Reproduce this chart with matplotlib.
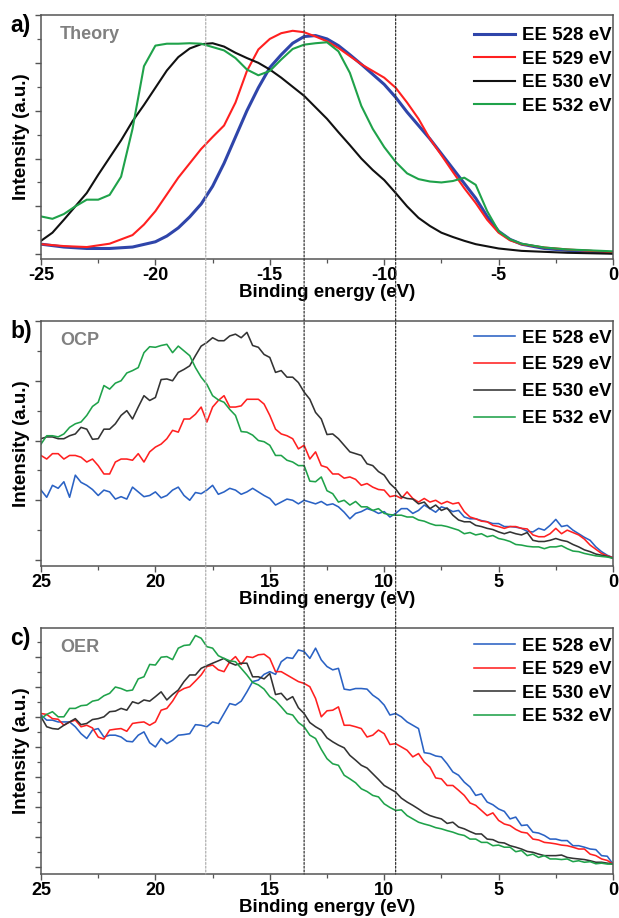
import numpy as np
import matplotlib
matplotlib.use("Agg")
import matplotlib.pyplot as plt
from matplotlib.patches import ConnectionPatch
from matplotlib.ticker import MultipleLocator, FuncFormatter

plt.rcParams['font.family'] = ['Liberation Sans', 'DejaVu Sans']
plt.rcParams['font.weight'] = 'bold'

labels = ["EE 528 eV", "EE 529 eV", "EE 530 eV", "EE 532 eV"]

# ---------------- Panel a: theory ----------------
xa_blue = [-25, -24, -23, -22, -21, -20, -19.5, -19, -18.5, -18, -17.5, -17, -16.5, -16, -15.5, -15,
           -14.5, -14, -13.5, -13, -12.5, -12, -11.5, -11, -10.5, -10, -9.5, -9, -8.5, -8, -7.5, -7,
           -6.5, -6, -5.5, -5, -4.5, -4, -3, -2, -1, 0]
ya_blue = [0.21, 0.15, 0.12, 0.12, 0.15, 0.26, 0.38, 0.55, 0.78, 1.05, 1.42, 1.90, 2.45, 3.00, 3.48, 3.90,
           4.17, 4.41, 4.55, 4.57, 4.50, 4.36, 4.17, 3.97, 3.76, 3.55, 3.28, 2.97, 2.69, 2.41, 2.10, 1.79,
           1.48, 1.17, 0.79, 0.48, 0.31, 0.21, 0.12, 0.08, 0.06, 0.03]

xa_red = [-25, -24, -23, -22, -21, -20.5, -20, -19.5, -19, -18.5, -18, -17.5, -17, -16.5, -16, -15.5,
          -15, -14.5, -14, -13.5, -13, -12.5, -12, -11.5, -11, -10.5, -10, -9.5, -9, -8.5, -8, -7.5,
          -7, -6.5, -6, -5.5, -5, -4.5, -4, -3, -2, -1, 0]
ya_red = [0.21, 0.17, 0.15, 0.22, 0.40, 0.62, 0.90, 1.25, 1.60, 1.90, 2.20, 2.45, 2.69, 3.17, 3.83, 4.28,
          4.50, 4.62, 4.67, 4.64, 4.55, 4.45, 4.31, 4.14, 3.97, 3.83, 3.69, 3.48, 3.17, 2.83, 2.41, 2.07,
          1.72, 1.38, 1.07, 0.72, 0.45, 0.29, 0.21, 0.14, 0.10, 0.07, 0.04]

xa_black = [-25, -24.5, -24, -23.5, -23, -22.5, -22, -21.5, -21, -20.5, -20, -19.5, -19, -18.5, -18,
            -17.5, -17, -16.5, -16, -15.5, -15, -14.5, -14, -13.5, -13, -12.5, -12, -11.5, -11, -10.5,
            -10, -9.5, -9, -8.5, -8, -7.5, -7, -6.5, -6, -5, -4, -2, 0]
ya_black = [0.28, 0.45, 0.72, 1.00, 1.28, 1.66, 2.02, 2.38, 2.78, 3.12, 3.48, 3.84, 4.12, 4.30, 4.39,
            4.41, 4.34, 4.21, 4.10, 4.00, 3.86, 3.69, 3.50, 3.31, 3.07, 2.83, 2.55, 2.28, 2.00, 1.76,
            1.55, 1.28, 1.00, 0.76, 0.59, 0.45, 0.36, 0.28, 0.21, 0.12, 0.07, 0.03, 0.01]

xa_green = [-25, -24.5, -24, -23.5, -23, -22.5, -22, -21.5, -21, -20.5, -20, -19.5, -19, -18.5, -18,
            -17.5, -17, -16.5, -16, -15.5, -15, -14.5, -14, -13.5, -13, -12.5, -12, -11.5, -11, -10.5,
            -10, -9.5, -9, -8.5, -8, -7.5, -7, -6.5, -6, -5.5, -5, -4.5, -4, -3, -2, 0]
ya_green = [0.79, 0.74, 0.84, 1.00, 1.14, 1.14, 1.24, 1.62, 2.62, 3.93, 4.36, 4.40, 4.40, 4.41, 4.40,
            4.33, 4.26, 4.10, 3.86, 3.74, 3.83, 4.07, 4.29, 4.38, 4.41, 4.43, 4.24, 3.79, 3.10, 2.62,
            2.24, 1.93, 1.69, 1.57, 1.52, 1.50, 1.53, 1.60, 1.45, 0.90, 0.48, 0.31, 0.22, 0.14, 0.10, 0.06]

# ---------------- Panels b, c: experiment, binding energy 25 -> 0 in 0.25 eV steps ----------------
x_exp = [25 - 0.25 * i for i in range(101)]

ocp_528 = [1.17, 1.05, 1.25, 1.20, 1.31, 1.05, 1.42, 1.30, 1.25, 1.18, 1.08, 1.17, 1.14, 1.02, 1.06, 1.02,
           1.22, 1.14, 1.06, 1.08, 1.14, 1.04, 1.08, 1.17, 1.22, 1.08, 1.00, 1.13, 1.11, 1.17, 1.25, 1.10,
           1.14, 1.20, 1.17, 1.10, 1.14, 1.20, 1.14, 1.08, 1.03, 0.92, 0.97, 1.02, 1.00, 0.94, 1.00, 0.97,
           0.94, 0.98, 0.92, 0.94, 0.89, 0.80, 0.69, 0.78, 0.81, 0.86, 0.83, 0.78, 0.81, 0.72, 0.78, 0.86,
           0.86, 0.78, 0.83, 0.92, 0.86, 0.80, 0.89, 0.86, 0.81, 0.83, 0.72, 0.69, 0.69, 0.66, 0.64, 0.61,
           0.61, 0.56, 0.56, 0.55, 0.53, 0.48, 0.47, 0.53, 0.50, 0.58, 0.68, 0.56, 0.58, 0.50, 0.44, 0.38,
           0.33, 0.22, 0.14, 0.08, 0.04]
ocp_529 = [1.75, 1.69, 1.78, 1.78, 1.69, 1.75, 1.75, 1.72, 1.64, 1.69, 1.58, 1.44, 1.44, 1.64, 1.69, 1.69,
           1.67, 1.78, 1.64, 1.81, 1.89, 1.94, 2.03, 2.17, 2.14, 2.36, 2.36, 2.44, 2.56, 2.31, 2.56, 2.67,
           2.75, 2.56, 2.56, 2.58, 2.69, 2.69, 2.69, 2.61, 2.42, 2.19, 2.11, 2.08, 2.03, 1.86, 1.92, 1.69,
           1.81, 1.58, 1.55, 1.44, 1.44, 1.37, 1.39, 1.35, 1.25, 1.28, 1.22, 1.18, 1.17, 1.06, 1.08, 1.03,
           1.14, 1.03, 0.97, 1.03, 0.97, 1.00, 0.94, 0.98, 0.94, 0.96, 0.81, 0.72, 0.69, 0.65, 0.64, 0.58,
           0.56, 0.53, 0.56, 0.56, 0.53, 0.52, 0.42, 0.39, 0.39, 0.44, 0.53, 0.44, 0.50, 0.46, 0.42, 0.35,
           0.25, 0.18, 0.11, 0.07, 0.04]
ocp_530 = [2.03, 2.06, 2.06, 2.03, 2.03, 2.08, 2.11, 2.22, 2.19, 2.02, 2.03, 2.19, 2.19, 2.28, 2.42, 2.50,
           2.36, 2.56, 2.75, 2.67, 2.72, 3.02, 3.03, 3.00, 3.14, 3.19, 3.25, 3.42, 3.58, 3.64, 3.72, 3.67,
           3.67, 3.75, 3.78, 3.72, 3.81, 3.59, 3.56, 3.44, 3.39, 3.14, 3.17, 3.06, 3.06, 2.97, 2.81, 2.69,
           2.47, 2.36, 2.10, 2.11, 2.03, 1.92, 1.81, 1.78, 1.75, 1.61, 1.58, 1.48, 1.42, 1.28, 1.19, 1.06,
           1.03, 1.02, 0.94, 0.97, 0.86, 0.92, 0.83, 0.87, 0.75, 0.67, 0.64, 0.64, 0.58, 0.56, 0.53, 0.51,
           0.47, 0.44, 0.47, 0.44, 0.42, 0.46, 0.33, 0.31, 0.31, 0.33, 0.36, 0.33, 0.31, 0.26, 0.22, 0.17,
           0.14, 0.10, 0.08, 0.06, 0.03]
ocp_532 = [1.94, 2.08, 2.08, 2.06, 2.11, 2.22, 2.28, 2.31, 2.42, 2.57, 2.64, 2.92, 2.86, 2.96, 3.00, 3.13,
           3.17, 3.22, 3.47, 3.57, 3.56, 3.59, 3.61, 3.47, 3.58, 3.50, 3.42, 3.22, 3.06, 2.94, 2.75, 2.68,
           2.64, 2.52, 2.42, 2.15, 2.14, 2.09, 2.00, 1.98, 1.92, 1.75, 1.75, 1.67, 1.64, 1.58, 1.58, 1.32,
           1.31, 1.39, 1.16, 1.11, 0.97, 1.00, 0.92, 0.98, 0.89, 0.89, 0.83, 0.86, 0.78, 0.76, 0.75, 0.75,
           0.72, 0.72, 0.67, 0.65, 0.61, 0.58, 0.58, 0.56, 0.53, 0.50, 0.44, 0.46, 0.42, 0.44, 0.39, 0.41,
           0.36, 0.34, 0.31, 0.26, 0.25, 0.23, 0.22, 0.22, 0.19, 0.22, 0.22, 0.24, 0.19, 0.15, 0.14, 0.11,
           0.09, 0.07, 0.06, 0.05, 0.03]

oer_528 = [5.06, 4.89, 4.89, 4.83, 4.83, 4.83, 4.67, 4.44, 4.28, 4.56, 4.61, 4.33, 4.39, 4.39, 4.33, 4.19,
           4.17, 4.39, 4.50, 4.14, 4.00, 4.28, 4.11, 4.22, 4.39, 4.41, 4.44, 4.74, 4.72, 4.67, 4.83, 4.78,
           5.11, 5.44, 5.39, 5.52, 5.83, 6.17, 6.22, 6.41, 6.50, 6.41, 6.83, 6.97, 6.94, 7.22, 7.17, 6.94,
           7.28, 6.89, 6.67, 6.56, 6.61, 5.92, 5.89, 5.94, 5.94, 5.92, 5.72, 5.59, 5.39, 5.06, 5.11, 5.00,
           4.83, 4.72, 4.61, 3.81, 3.78, 3.70, 3.67, 3.44, 3.17, 3.06, 2.83, 2.67, 2.39, 2.44, 2.17, 2.08,
           1.94, 1.86, 1.61, 1.67, 1.39, 1.41, 1.17, 1.14, 1.06, 0.94, 0.94, 0.89, 0.89, 0.72, 0.72, 0.67,
           0.61, 0.59, 0.39, 0.37, 0.11]
oer_529 = [5.11, 5.08, 4.94, 4.92, 4.72, 4.83, 4.89, 4.67, 4.72, 4.63, 4.33, 4.26, 4.56, 4.59, 4.61, 4.52,
           4.78, 4.81, 4.83, 4.72, 4.83, 5.22, 5.28, 5.52, 5.83, 5.94, 6.00, 6.19, 6.39, 6.67, 6.72, 6.56,
           6.50, 6.83, 7.00, 6.74, 7.00, 6.97, 7.06, 7.08, 6.94, 6.50, 6.50, 6.39, 6.28, 6.17, 6.11, 6.00,
           5.61, 5.00, 5.20, 5.22, 5.33, 4.72, 4.72, 4.67, 4.61, 4.33, 4.39, 4.56, 4.44, 4.08, 4.11, 4.00,
           3.89, 3.67, 3.78, 3.50, 3.33, 2.97, 2.94, 2.72, 2.72, 2.56, 2.39, 2.14, 2.06, 1.89, 1.72, 1.81,
           1.56, 1.44, 1.39, 1.26, 1.17, 1.14, 0.94, 0.91, 0.83, 0.81, 0.78, 0.74, 0.72, 0.67, 0.61, 0.61,
           0.44, 0.39, 0.28, 0.23, 0.11]
oer_530 = [5.00, 4.67, 4.61, 4.59, 4.72, 4.83, 4.94, 4.74, 4.78, 4.91, 4.94, 5.00, 5.17, 5.19, 5.28, 5.22,
           5.50, 5.44, 5.56, 5.52, 5.67, 5.83, 5.56, 5.74, 5.89, 6.17, 6.39, 6.39, 6.61, 6.70, 6.78, 6.86,
           6.94, 6.80, 6.72, 6.78, 6.78, 6.33, 6.33, 6.26, 6.44, 5.74, 5.78, 5.56, 5.67, 5.30, 5.11, 4.81,
           4.67, 4.56, 4.30, 4.17, 4.06, 3.97, 3.72, 3.56, 3.39, 3.30, 3.11, 2.92, 2.72, 2.61, 2.50, 2.30,
           2.17, 2.06, 1.94, 1.81, 1.72, 1.66, 1.61, 1.46, 1.50, 1.34, 1.28, 1.19, 1.11, 1.11, 0.94, 0.92,
           0.83, 0.81, 0.72, 0.67, 0.61, 0.53, 0.50, 0.44, 0.39, 0.39, 0.39, 0.41, 0.33, 0.30, 0.28, 0.26,
           0.22, 0.17, 0.17, 0.14, 0.11]
oer_532 = [4.94, 5.08, 5.17, 5.00, 5.00, 5.28, 5.28, 5.37, 5.39, 5.52, 5.56, 5.70, 5.78, 5.99, 5.94, 5.86,
           5.89, 6.26, 6.33, 6.74, 6.72, 6.98, 7.00, 6.90, 7.28, 7.37, 7.39, 7.70, 7.61, 7.33, 7.28, 7.03,
           6.94, 6.86, 6.83, 6.61, 6.39, 6.14, 6.06, 5.92, 5.67, 5.54, 5.33, 5.11, 5.06, 4.81, 4.67, 4.39,
           4.28, 3.92, 3.61, 3.44, 3.39, 3.06, 2.94, 2.81, 2.61, 2.52, 2.39, 2.34, 2.11, 1.99, 1.89, 1.91,
           1.72, 1.61, 1.50, 1.44, 1.39, 1.32, 1.28, 1.22, 1.17, 1.10, 1.06, 0.94, 0.94, 0.83, 0.83, 0.72,
           0.74, 0.67, 0.67, 0.52, 0.56, 0.39, 0.44, 0.33, 0.39, 0.28, 0.28, 0.26, 0.28, 0.19, 0.22, 0.17,
           0.19, 0.12, 0.14, 0.11, 0.11]

marker_lines = [17.8, 13.5, 9.5]

col_blue_a = '#2f45aa'
col_blue = '#2a62c4'
col_red = '#ff2020'
col_black = '#111111'
col_black_b = '#333333'
col_green = '#1fa24a'

W, H = 619, 918
fig = plt.figure(figsize=(W / 100, H / 100), dpi=100)


def ax_at(left, top, right, bottom):
    return fig.add_axes([left / W, 1 - bottom / H, (right - left) / W, (bottom - top) / H])


axa = ax_at(41, 15, 613, 259)
axb = ax_at(41, 321, 613, 566)
axc = ax_at(41, 628, 613, 874)

axa.plot(xa_blue, ya_blue, color=col_blue_a, lw=2.2, label=labels[0])
axa.plot(xa_red, ya_red, color=col_red, lw=1.5, label=labels[1])
axa.plot(xa_black, ya_black, color=col_black, lw=1.5, label=labels[2])
axa.plot(xa_green, ya_green, color=col_green, lw=1.5, label=labels[3])
axa.set_xlim(-25, 0)
axa.set_ylim(-0.1, 5.0)

for ax, d in [(axb, [ocp_528, ocp_529, ocp_530, ocp_532]), (axc, [oer_528, oer_529, oer_530, oer_532])]:
    for ys, c, lab in zip(d, [col_blue, col_red, col_black_b, col_green], labels):
        ax.plot(x_exp, ys, color=c, lw=1.15, label=lab)
    ax.set_xlim(25, 0)
axb.set_ylim(-0.1, 4.0)
axc.set_ylim(-0.22, 7.95)

for ax, tag, name, lsp, top in [(axa, 'a)', 'Theory', 0.34, 0.985), (axb, 'b)', 'OCP', 0.52, 1.0),
                                (axc, 'c)', 'OER', 0.34, 0.995)]:
    ax.yaxis.set_major_locator(MultipleLocator(1))
    ax.yaxis.set_minor_locator(MultipleLocator(0.5))
    ax.xaxis.set_major_locator(MultipleLocator(5))
    ax.xaxis.set_minor_locator(MultipleLocator(2.5))
    for s in ax.spines.values():
        s.set_color('#555555')
        s.set_linewidth(1.1)
    ax.tick_params(axis='both', which='both', direction='out', top=False, right=False,
                   colors='#555555', labelcolor='black')
    ax.tick_params(axis='both', which='major', length=4, width=1.0, labelsize=13, pad=1.5)
    ax.tick_params(axis='both', which='minor', length=3, width=0.9)
    ax.tick_params(axis='y', which='both', labelleft=False)
    ax.xaxis.set_major_formatter(FuncFormatter(lambda v, p: f"{v:g}"))
    ax.set_xlabel('Binding energy (eV)', fontsize=13.5, fontweight='bold', labelpad=0)
    ax.set_ylabel('Intensity (a.u.)', fontsize=13.5, fontweight='bold', labelpad=4)
    ax.text(-0.054, 1.005, tag, transform=ax.transAxes, fontsize=16.5, fontweight='bold',
            ha='left', va='top')
    ax.text(0.033, 0.955, name, transform=ax.transAxes, fontsize=13, fontweight='bold',
            color='#808080', ha='left', va='top')
    ax.legend(loc='upper right', bbox_to_anchor=(1.012, top), frameon=False,
              handlelength=2.2, handletextpad=0.35, labelspacing=lsp,
              borderaxespad=0.15, borderpad=0.3,
              prop={'weight': 'bold', 'size': 13.5})

for i, xv in enumerate(marker_lines):
    color = '#b0b0b0' if i == 0 else '#333333'
    con = ConnectionPatch(xyA=(-xv, 1.0), coordsA=axa.get_xaxis_transform(),
                          xyB=(xv, 0.0), coordsB=axc.get_xaxis_transform(),
                          linestyle=(0, (1.5, 1.5)), color=color, lw=0.9, zorder=0.5)
    fig.add_artist(con)

fig.savefig('out.png', dpi=100)
